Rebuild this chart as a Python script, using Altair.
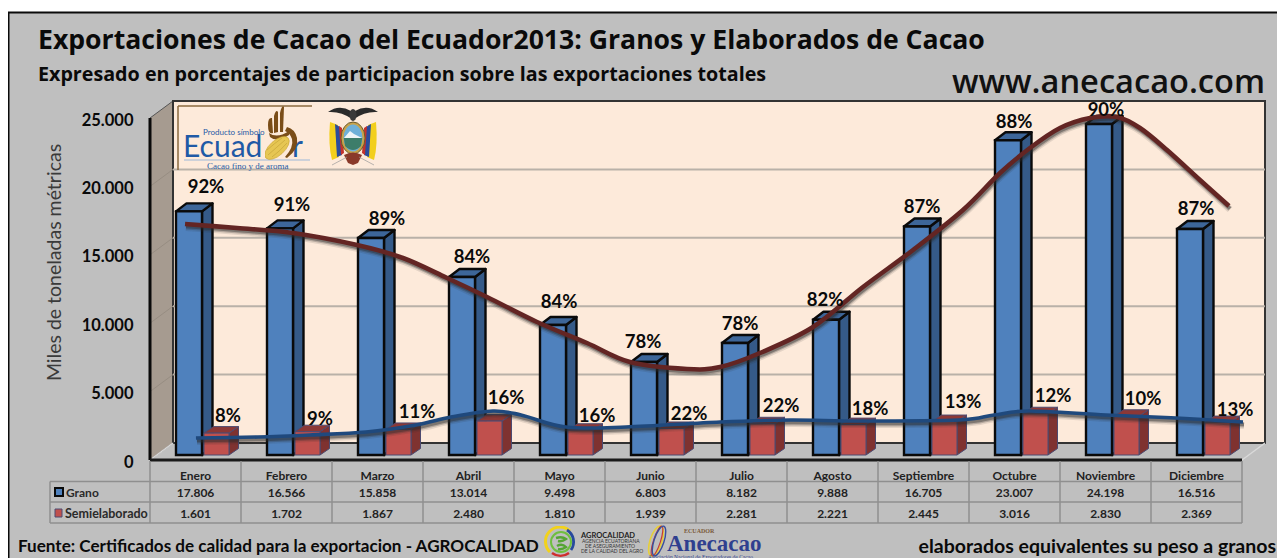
import base64
import altair as alt
import pandas as pd

# ---- values ----
MONTHS = ["Enero", "Febrero", "Marzo", "Abril", "Mayo", "Junio", "Julio", "Agosto",
          "Septiembre", "Octubre", "Noviembre", "Diciembre"]
GRANO = [17806, 16566, 15858, 13014, 9498, 6803, 8182, 9888, 16705, 23007, 24198, 16516]
SEMI = [1601, 1702, 1867, 2480, 1810, 1939, 2281, 2221, 2445, 3016, 2830, 2369]
GRANO_PCT = ["92%", "91%", "89%", "84%", "84%", "78%", "78%", "82%", "87%", "88%", "90%", "87%"]
SEMI_PCT = ["8%", "9%", "11%", "16%", "16%", "22%", "22%", "18%", "13%", "12%", "10%", "13%"]
Y_TICKS = [0, 5000, 10000, 15000, 20000, 25000]

# curves, month position (0-12) and tonnes
BROWN_POS = [.385, .956, 1.571, 2.275, 2.780, 3.264, 3.703, 4.253, 4.802, 5.275, 5.901, 6.264, 6.703,
             7.286, 7.835, 8.385, 8.934, 9.341, 9.670, 10.0, 10.33, 10.626, 10.879, 11.176, 11.538, 11.857]
BROWN_TON = [17252, 16959, 16594, 15717, 14766, 13304, 11915, 10088, 8553, 7164, 6652, 6798, 7822,
             9722, 12646, 15351, 18275, 20980, 22807, 24269, 25000, 25073, 24269, 22661, 20468, 18567]
BLUE_POS = [.505, 1.187, 1.758, 2.374, 2.923, 3.308, 3.769, 4.077, 4.571, 5.231, 6.264, 7.033, 7.802,
            8.890, 9.275, 9.659, 10.505, 11.275, 12.011]
BLUE_TON = [1608, 1681, 1828, 2047, 2559, 3143, 3582, 3290, 2412, 2412, 2778, 2924, 2851,
            2924, 3290, 3582, 3290, 3070, 2778]

# where the hand-placed percentage labels sit
GRANO_LX = [.615, .56, .604, .538, .495, .418, .484, .418, .484, .495, .505, .495]
GRANO_LIFT = [1755, 1682, 1389, 1462, 1682, 1462, 1389, 1462, 1389, 1316, 1024, 1462]
SEMI_LX = [.857, .868, .934, .912, .912, .923, .934, .912, .934, .923, .912, .923]
SEMI_LIFT = [1243, 951, 1279, 1718, 1024, 1060, 1316, 1170, 1426, 1316, 1243, 914]

# ---- layout ----
PL, PT = 150, 118
W, H = 1092, 342
CW, CH = 1269, 550
PXU = W / 12         # px per month
PTON = H / 25000     # px per tonne
def ux(px): return px / PXU
def uy(px): return px / PTON
BASE = uy(5)
WALL_DX, WALL_DY = ux(23), uy(17)

BLACK = "#0a0a0a"
SANS = "Lato"
WIDE = "Open Sans"

XS = alt.Scale(domain=[0, 12], nice=False, zero=False)
YS = alt.Scale(domain=[0, 25000], nice=False, zero=False)
YAXIS = alt.Axis(title="Miles de toneladas métricas", values=Y_TICKS, grid=False, domain=False, ticks=False, zindex=1,
                 labelPadding=17, labelOffset=2, labelFont=SANS, labelFontSize=16.5, labelFontWeight="bold", labelColor=BLACK,
                 labelExpr="replace(format(datum.value, ',.0f'), ',', '.')",
                 titleFont=SANS, titleFontSize=19.5, titleFontWeight="normal", titleColor="#3a3a3a",
                 titleX=-86, titleY=144, titleAngle=270)
X = lambda f="x": alt.X(f"{f}:Q", scale=XS, axis=None)
Y = lambda f="y": alt.Y(f"{f}:Q", scale=YS, axis=YAXIS)
ONE = pd.DataFrame({"a": [0]})

def vx(px): return alt.value(px - PL)
def vy(py): return alt.value(py - PT)

def label(text, px, py, size, weight="bold", color=BLACK, align="left", font=SANS):
    return alt.Chart(ONE).mark_text(text=text, fontSize=size, fontWeight=weight, color=color, align=align,
                                    font=font, baseline="middle").encode(x=vx(px), y=vy(py))

def pixrect(x0, x1, y0, y1, **kw):
    return alt.Chart(ONE).mark_rect(**kw).encode(x=vx(x0), x2=vx(x1), y=vy(y0), y2=vy(y1))

def pixrule(x0, x1, y0, y1, color, w):
    return alt.Chart(ONE).mark_rule(color=color, strokeWidth=w).encode(x=vx(x0), x2=vx(x1), y=vy(y0), y2=vy(y1))

def image(svg, px, py, w, h):
    url = "data:image/svg+xml;base64," + base64.b64encode(svg.encode()).decode()
    return alt.Chart(ONE).mark_image(url=url, width=w, height=h, align="left", baseline="top").encode(x=vx(px), y=vy(py))

layers = []

# outer frame
layers.append(pixrect(8.5, 1400, 12.5, 700, fill="#bfbfbf", stroke=BLACK, strokeWidth=2))

# walls
left_wall = pd.DataFrame({"x": [0, WALL_DX], "y": [0, WALL_DY], "y2": [25000, 25000 + WALL_DY]})
layers.append(alt.Chart(left_wall).mark_area(color="#a69b90", stroke="#555555", strokeWidth=1).encode(
    x=X(), y=Y(), y2="y2:Q"))
back = pd.DataFrame({"x": [WALL_DX], "x2": [12 + WALL_DX], "y": [WALL_DY], "y2": [25000 + WALL_DY]})
layers.append(alt.Chart(back).mark_rect(fill="#fdeada", stroke="#333333", strokeWidth=2).encode(
    x=X(), x2="x2:Q", y=Y(), y2="y2:Q"))

# gridlines on the back wall and down the left wall
gvals = Y_TICKS[1:-1]
grid = pd.DataFrame({"x": [WALL_DX] * 4, "x2": [12 + WALL_DX] * 4, "y": [g + WALL_DY for g in gvals]})
layers.append(alt.Chart(grid).mark_rule(color="#b9b1a8", strokeWidth=2).encode(x=X(), x2="x2:Q", y=Y()))
gside = pd.DataFrame([{"g": g, "x": px, "y": g + (WALL_DY if px else 0)} for g in gvals for px in (0, WALL_DX)])
layers.append(alt.Chart(gside).mark_line(color="#978d82", strokeWidth=1).encode(x=X(), y=Y(), detail="g:N"))

# floor edges
floor_r = pd.DataFrame({"x": [12, 12 + WALL_DX], "y": [0, WALL_DY]})
layers.append(alt.Chart(floor_r).mark_line(color="#d9d9d9", strokeWidth=1.5).encode(x=X(), y=Y()))
floor_l = pd.DataFrame({"x": [0, WALL_DX], "y": [0, WALL_DY]})
layers.append(alt.Chart(floor_l).mark_line(color="#d9d9d9", strokeWidth=1.5).encode(x=X(), y=Y()))


def bar3d(values, x0, x1, dx, dy, front, side, top, stroke, sw):
    rows_f, rows_s, rows_t = [], [], []
    for i, v in enumerate(values):
        l, r, t = i + x0, i + x1, v + BASE
        rows_f.append({"x": l, "x2": r, "y": t, "y2": BASE})
        rows_s += [{"b": i, "x": r, "y": BASE, "y2": t},
                   {"b": i, "x": r + dx, "y": BASE + dy, "y2": t + dy}]
        rows_t += [{"b": i, "x": l, "y": t, "y2": t},
                   {"b": i, "x": l + dx, "y": t, "y2": t + dy},
                   {"b": i, "x": r, "y": t, "y2": t + dy},
                   {"b": i, "x": r + dx, "y": t + dy, "y2": t + dy}]
    return [
        alt.Chart(pd.DataFrame(rows_s)).mark_area(fill=side, stroke=stroke, strokeWidth=sw, strokeJoin="round").encode(
            x=X(), y=Y(), y2="y2:Q", detail="b:N"),
        alt.Chart(pd.DataFrame(rows_t)).mark_area(fill=top, stroke=stroke, strokeWidth=sw, strokeJoin="round").encode(
            x=X(), y=Y(), y2="y2:Q", detail="b:N"),
        alt.Chart(pd.DataFrame(rows_f)).mark_rect(fill=front, stroke=stroke, strokeWidth=sw).encode(
            x=X(), x2="x2:Q", y=Y(), y2="y2:Q"),
    ]

layers += bar3d(GRANO, ux(26), ux(52), ux(10.5), uy(8), "#4f81bd", "#355a88", "#3d6699", BLACK, 2.4)
layers += bar3d(SEMI, ux(54), ux(79), ux(9.5), uy(6.5), "#c0504d", "#7f3230", "#8c3836", "#4d4a70", 1)

# axes lines (front plane)
layers.append(pixrule(150, 150, 118, 460, BLACK, 3))
layers.append(pixrule(150, 1242, 460, 460, "#1a1a1a", 3))

# curves with soft shadow
brown = pd.DataFrame({"x": BROWN_POS, "y": BROWN_TON})
blue = pd.DataFrame({"x": BLUE_POS, "y": BLUE_TON})
for frame, col, lw in ((brown, "#632523", 4.6), (blue, "#1f497d", 3.6)):
    for w, op, off in ((7, .12, 3.5), (5, .25, 3), (3.5, .4, 2.5)):
        layers.append(alt.Chart(frame).mark_line(color="#2b2b2b", strokeWidth=w, opacity=op, interpolate="cardinal",
                                                 xOffset=1, yOffset=off).encode(x=X(), y=Y()))
    layers.append(alt.Chart(frame).mark_line(color=col, strokeWidth=lw, interpolate="cardinal").encode(x=X(), y=Y()))

# percentage labels
g_lab = pd.DataFrame({"x": [i + d for i, d in enumerate(GRANO_LX)],
                      "y": [v + BASE + l for v, l in zip(GRANO, GRANO_LIFT)], "t": GRANO_PCT})
s_lab = pd.DataFrame({"x": [i + d for i, d in enumerate(SEMI_LX)],
                      "y": [v + BASE + l for v, l in zip(SEMI, SEMI_LIFT)], "t": SEMI_PCT})
for d in (g_lab, s_lab):
    layers.append(alt.Chart(d).mark_text(font=SANS, fontSize=18.5, fontWeight="bold", color=BLACK, baseline="middle").encode(
        x=X(), y=Y(), text="t:N"))

# data table
TC = "#8f8f8f"
vr = pd.DataFrame({"x": list(range(13))})
layers.append(alt.Chart(vr).mark_rule(color=TC, strokeWidth=1.5).encode(x=X(), y=vy(461), y2=vy(523)))
for yy in (481.5, 502, 523):
    layers.append(pixrule(50, 1242, yy, yy, TC, 1.5))
layers.append(pixrule(50, 50, 481.5, 523, TC, 1.5))

def fmt(v):
    return f"{v:,}".replace(",", ".")

tab = pd.DataFrame({"x": [i + .5 for i in range(12)], "m": MONTHS, "g": [fmt(v) for v in GRANO], "s": [fmt(v) for v in SEMI]})
for col, yy in (("m", 476), ("g", 493), ("s", 514)):
    layers.append(alt.Chart(tab).mark_text(font=SANS, fontSize=12, fontWeight="bold", color="#222222", baseline="middle").encode(
        x=X(), y=vy(yy), text=f"{col}:N"))

layers.append(pixrect(55, 63, 488, 496, fill="#4f81bd", stroke=BLACK, strokeWidth=2))
layers.append(pixrect(55, 62, 509, 517, fill="#c0504d", stroke="#4d4a70", strokeWidth=1))
layers.append(label("Grano", 66, 493, 12, color="#2a2a2a"))
layers.append(label("Semielaborado", 65, 513.5, 12.5, color="#2a2a2a"))

# titles
layers.append(label("Exportaciones de Cacao del Ecuador2013: Granos y Elaborados de Cacao", 38, 41, 26.6, font=WIDE))
layers.append(label("Expresado en porcentajes de participacion sobre las exportaciones totales", 38, 75, 19.7, font=WIDE))
layers.append(label("www.anecacao.com", 1265, 83, 32.6, weight=600, align="right", color="#111111", font=WIDE))
layers.append(label("Fuente: Certificados de calidad para la exportacion - AGROCALIDAD", 18, 547, 17.1))
layers.append(label("elaborados equivalentes su peso a granos", 1276, 547, 19.5, align="right"))

# Ecuador brand block
layers.append(pixrule(178, 312, 106, 106, "#8a6a3f", 1.5))
layers.append(pixrule(178, 178, 106, 170, "#8a6a3f", 1.5))
BR = "#1f5aa6"
layers.append(label("Ecuad", 183, 148, 30, weight="normal", color=BR))
layers.append(label("r", 292, 148, 30, weight="normal", color=BR))
layers.append(label("Producto símbolo", 203, 133, 8, weight="normal", color=BR))
layers.append(label("Cacao fino y de aroma", 207, 165.5, 9, weight="normal", color=BR, font="Liberation Serif"))
layers.append(pixrule(184, 310, 160, 160, "#9db8d8", 1))

hand = """<svg xmlns='http://www.w3.org/2000/svg' viewBox='0 0 36 56' width='36' height='56'>
<g fill='#7a4d18'>
<path d='M3 20 Q3 12 7 13 L8 28 Q3 30 3 20Z'/><path d='M9 11 Q11 4 13 7 L13 27 L9 28Z'/>
<path d='M15 8 Q17 -1 19 2 L18 27 L15 27Z'/><path d='M20 26 L22 22 Q30 24 32 33 Q34 44 22 53 L20 52 Q29 42 27 34 Q25 28 20 26Z'/>
<path d='M4 28 Q12 34 24 26 L24 30 Q12 38 5 32Z'/></g>
<ellipse cx='12' cy='43' rx='15' ry='7.5' transform='rotate(-42 12 43)' fill='#e6c653' stroke='#c9a432' stroke-width='.6'/>
<path d='M3 50 Q12 42 20 35 M7 52 Q15 46 22 38 M2 45 Q10 38 17 33' stroke='#b8962e' stroke-width='.5' fill='none'/>
</svg>"""
layers.append(image(hand, 265, 105, 36, 56))

arms = """<svg xmlns='http://www.w3.org/2000/svg' viewBox='0 0 52 64' width='52' height='64'>
<path d='M1 7 Q12 -1 24 6 L25 14 Q14 6 1 7Z' fill='#2b2b2b'/><path d='M51 7 Q40 -1 28 6 L27 14 Q38 6 51 7Z' fill='#2b2b2b'/>
<ellipse cx='26' cy='10' rx='3.5' ry='6' fill='#3a3a3a'/>
<path d='M3 17 L11 20 L12 52 L5 55 Q1 40 3 17Z' fill='#f2cf1d'/><path d='M49 17 L41 20 L40 52 L47 55 Q51 40 49 17Z' fill='#f2cf1d'/>
<path d='M8 19 L13 22 L15 50 L10 52Z' fill='#2a4c9c'/><path d='M44 19 L39 22 L37 50 L42 52Z' fill='#2a4c9c'/>
<path d='M12 21 L15 23 L17 48 L14 50Z' fill='#c3322c'/><path d='M40 21 L37 23 L35 48 L38 50Z' fill='#c3322c'/>
<ellipse cx='26' cy='33' rx='12' ry='16' fill='#c9a34a' stroke='#6b5a2c'/>
<ellipse cx='26' cy='33' rx='9.5' ry='13.5' fill='#6fb0d8'/>
<path d='M17 33 L23 26 L27 29 L35 33Z' fill='#eef4f6'/><path d='M16.8 33 L35.2 33 L34 41 Q26 49 18 41Z' fill='#3d7d6a'/>
<path d='M17 50 Q26 45 35 50 L31 58 L26 60 L21 58Z' fill='#8a3a2a'/>
<path d='M5 60 L20 52 M47 60 L32 52' stroke='#999' stroke-width='.7'/>
</svg>"""
layers.append(image(arms, 327, 105, 52, 64))

# footer logos
agro = """<svg xmlns='http://www.w3.org/2000/svg' viewBox='0 0 34 32' width='34' height='32'>
<path d='M6 26 A14 14 0 0 1 26 5' fill='none' stroke='#f2d21b' stroke-width='3'/>
<path d='M23 4 A14 14 0 0 1 27 24' fill='none' stroke='#274a9c' stroke-width='2.8'/>
<path d='M8 27 A14 14 0 0 0 25 27' fill='none' stroke='#cf2e2e' stroke-width='2.4'/>
<circle cx='17' cy='16' r='10' fill='none' stroke='#6fbf3f' stroke-width='2'/>
<path d='M12 12 Q18 10 22 13 Q18 16 14 15 M13 20 Q18 17 22 21 Q18 24 14 23' fill='none' stroke='#55a534' stroke-width='2.4'/>
</svg>"""
layers.append(image(agro, 544, 526, 34, 32))
layers.append(label("AGROCALIDAD", 581, 535.5, 7.5, color="#1f1f1f"))
layers.append(label("AGENCIA ECUATORIANA", 582, 541, 5, weight="normal", color="#333333"))
layers.append(label("DE ASEGURAMIENTO", 585, 546, 5, weight="normal", color="#333333"))
layers.append(label("DE LA CALIDAD DEL AGRO", 581, 551, 5, weight="normal", color="#333333"))

ane = """<svg xmlns='http://www.w3.org/2000/svg' viewBox='0 0 24 34' width='24' height='34'>
<ellipse cx='11' cy='17' rx='6' ry='15.5' transform='rotate(18 11 17)' fill='none' stroke='#e6cf3a' stroke-width='1.6'/>
<ellipse cx='12' cy='17' rx='3.5' ry='15.5' transform='rotate(18 12 17)' fill='none' stroke='#c33a3a' stroke-width='1.2'/>
<ellipse cx='14' cy='17' rx='5' ry='15.5' transform='rotate(18 14 17)' fill='none' stroke='#3a4f9c' stroke-width='1.4'/>
</svg>"""
layers.append(image(ane, 645, 524, 24, 34))
AB = "#2f3f8f"
layers.append(label("Anecacao", 667, 544, 23, color=AB, font="Liberation Serif"))
layers.append(label("ECUADOR", 684, 531, 6, color="#7a5a3a", font="Liberation Serif"))
layers.append(label("Asociación Nacional de Exportadores de Cacao", 648, 556.5, 5.5, weight="normal", color=AB, font="Liberation Serif"))

chart = alt.layer(*layers).properties(
    width=W, height=H,
    padding={"left": PL - 8, "top": PT - 8, "right": CW - (PL - 8) - W, "bottom": CH - (PT - 8) - H},
    autosize=alt.AutoSizeParams(type="none"),
).configure_view(stroke=None)

chart.save("out.html", embed_options={"renderer": "svg", "actions": False})
